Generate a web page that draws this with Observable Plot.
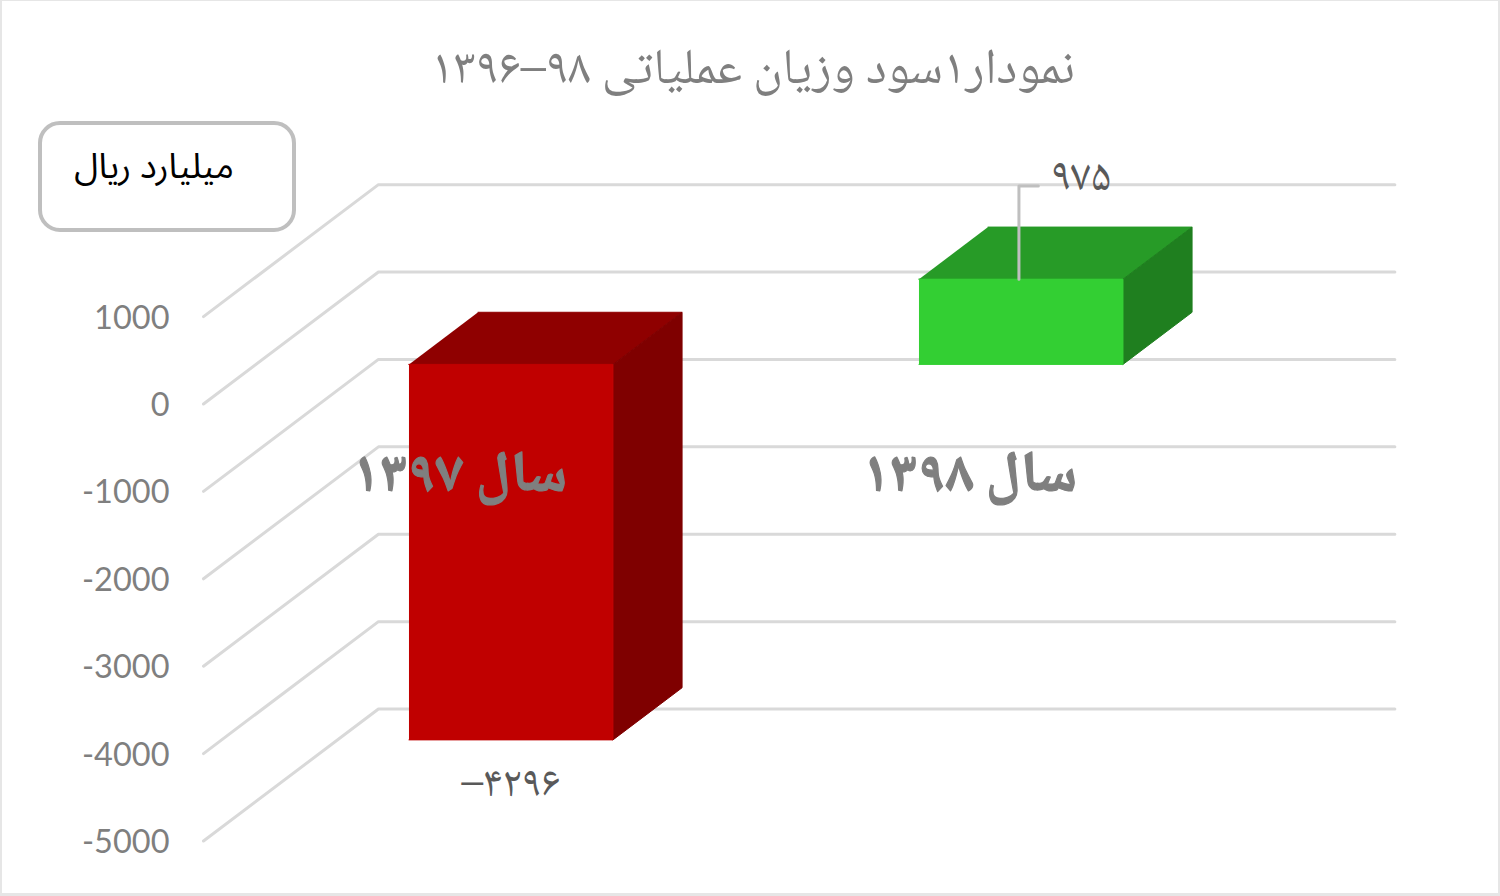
<!DOCTYPE html>
<html lang="fa">
<head>
<meta charset="utf-8">
<script src="https://cdn.jsdelivr.net/npm/d3@7"></script>
<script src="https://cdn.jsdelivr.net/npm/@observablehq/plot@0.6"></script>
<style>
  html, body { margin: 0; padding: 0; background: #fff; }
  #page { position: relative; width: 1500px; height: 896px; overflow: hidden; }
  #page svg { position: absolute; left: 0; top: 0; }
  #frame { position: absolute; inset: 0; box-sizing: border-box; border: solid #e6e6e6; border-width: 1px 2px 3px 2px; pointer-events: none; }
  #title { position: absolute; left: 253px; width: 1000px; top: 43px; text-align: center; direction: rtl;
           font: 50px "Noto Naskh Arabic", "Noto Sans Arabic", "DejaVu Sans", sans-serif; color: #7f7f7f; line-height: 60px; white-space: nowrap; }
  #unit { position: absolute; left: 38px; top: 121px; width: 258px; height: 111px; box-sizing: border-box; border: 4px solid #bfbfbf;
          border-radius: 22px; background: #fff; text-align: center; direction: rtl; color: #000; padding-right: 26px;
          font: 35px "Noto Sans Arabic", "DejaVu Sans", sans-serif; line-height: 84px; white-space: nowrap; }
</style>
</head>
<body>
<div id="page">
  <div id="title">نمودار۱سود وزیان عملیاتی ۹۸–۱۳۹۶</div>
  <div id="unit">میلیارد ریال</div>
  <div id="frame"></div>
</div>
<script>
const categories = ["سال ۱۳۹۷", "سال ۱۳۹۸"];
const values = [-4296, 975];
const valueLabels = ["–۴۲۹۶", "۹۷۵"];
const ticks = [1000, 0, -1000, -2000, -3000, -4000, -5000];
const frontColors = ["#c00000", "#33cf33"];
const topColors = ["#8f0000", "#279b27"];
const sideColors = ["#7f0000", "#1f7f1f"];

// oblique 3D projection, in data units
const depthX = 0.343, depthY = 1510, barHalf = 0.2, barNear = 0.3, barFar = 0.695;
const project = (x, y, d) => ({ x: x + d * depthX, y: y + d * depthY });

const walls = ticks.flatMap((t) => [
  { t, ...project(-0.5, t, 0) },
  { t, ...project(-0.5, t, 1) },
  { t, ...project(1.493, t, 1) }
]);

const faces = categories.flatMap((c, i) => {
  const v = values[i], l = i - barHalf, r = i + barHalf;
  const hi = Math.max(v, 0), lo = Math.min(v, 0);
  const poly = (id, fill, pts) => pts.map(([x, y, d]) => ({ id: i + id, fill, ...project(x, y, d) }));
  return [
    ...poly("top", topColors[i], [[l, hi, barNear], [r, hi, barNear], [r, hi, barFar], [l, hi, barFar]]),
    ...poly("side", sideColors[i], [[r, hi, barNear], [r, hi, barFar], [r, lo, barFar], [r, lo, barNear]]),
    ...poly("front", frontColors[i], [[l, hi, barNear], [r, hi, barNear], [r, lo, barNear], [l, lo, barNear]])
  ];
});

// leader from the top of the positive bar to its label
const rise = 1065, run = 0.038;
const leader = [
  project(1 - 0.004, values[1], barNear),
  project(1 - 0.004, values[1] + rise, barNear),
  project(1 - 0.004 + run, values[1] + rise, barNear)
];

const labelRows = values.map((v, i) => ({ ...project(i, v, barNear), text: valueLabels[i], v }));
const arabicFont = "'Noto Naskh Arabic', 'Noto Sans Arabic', 'DejaVu Sans', sans-serif";

const chart = Plot.plot({
  width: 1500,
  height: 896,
  marginLeft: 203,
  marginRight: 277,
  marginTop: 185,
  marginBottom: 55.5,
  x: { domain: [-0.5, 1.5], axis: null },
  y: { domain: [-5000, 2500], axis: null },
  color: { type: "identity" },
  style: { background: "transparent" },
  marks: [
    Plot.line(walls, { x: "x", y: "y", z: "t", stroke: "#d9d9d9", strokeWidth: 3, curve: "linear" }),
    Plot.line(faces, { x: "x", y: "y", z: "id", fill: "fill", stroke: "fill", strokeWidth: 1, curve: "linear" }),
    Plot.line(leader, { x: "x", y: "y", stroke: "#bfbfbf", strokeWidth: 3 }),
    Plot.text(ticks, { x: -0.5, y: (d) => d, text: (d) => String(d), textAnchor: "end", dx: -34, dy: 1.5,
      fontFamily: "Lato", fontSize: 32.5, fill: "#7f7f7f" }),
    Plot.text(labelRows.filter((d) => d.v < 0), { x: "x", y: "y", text: "text", dy: 42,
      fontFamily: arabicFont, fontSize: 43, fill: "#595959" }),
    Plot.text(labelRows.filter((d) => d.v > 0), { x: "x", y: "y", text: "text", dx: 60, dy: -104,
      fontFamily: arabicFont, fontSize: 45, fill: "#595959" }),
    Plot.text(categories, { x: (d, i) => i, y: -790, dx: 1, text: (d) => d,
      fontFamily: arabicFont, fontSize: 57, fontWeight: "bold", fill: "#7f7f7f", stroke: "#7f7f7f", strokeWidth: 1.2 })
  ]
});
document.getElementById("page").prepend(chart);
</script>
</body>
</html>
